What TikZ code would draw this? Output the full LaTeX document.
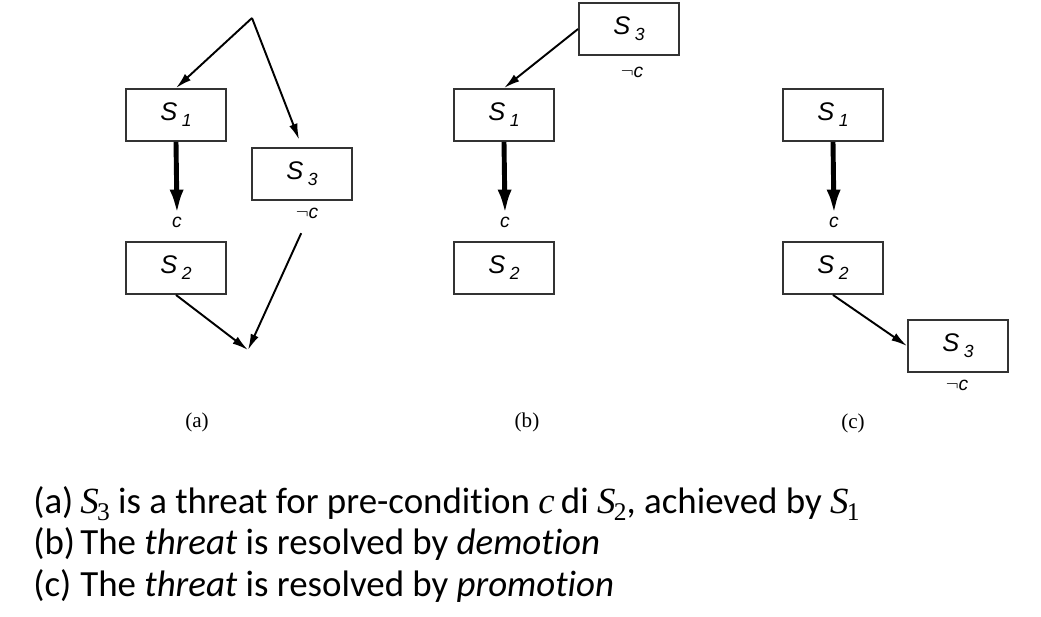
\documentclass[tikz,border=0pt]{standalone}
\usepackage{fontspec}
\setmainfont{Carlito}[Ligatures=NoCommon]
\newfontfamily\boxfont{Liberation Sans}
\newfontfamily\capfont{Liberation Serif}
\usetikzlibrary{arrows.meta}

\newcommand{\sname}[1]{\textit{S}\kern2.5pt\raisebox{-.45ex}{\fontsize{10}{10}\selectfont\textit{#1}}}
\newcommand{\mS}[1]{{\capfont\itshape S}\kern-1pt\raisebox{-.45ex}{\capfont\fontsize{14.5}{14.5}\selectfont #1}}

\tikzset{
  stepbox/.style = {draw=black!80, line width=1.1pt, minimum width=2cm, minimum height=1.04cm,
                    font=\boxfont\fontsize{14.5}{16}\selectfont},
  cond/.style = {inner sep=1pt, font=\boxfont\itshape\fontsize{11}{12}\selectfont},
  link/.style = {-{Latex[length=3.2mm,width=1.7mm]}, line width=1.1pt},
  causal/.style = {-{Latex[length=5mm,width=2.8mm]}, line width=2.8pt},
  sub/.style = {font=\capfont\fontsize{12}{14}\selectfont},
  item/.style = {anchor=base west, inner sep=0pt, font=\fontsize{21}{24}\selectfont}
}

\begin{document}
\begin{tikzpicture}[x = 0.02cm, y = -0.02cm]

            \useasboundingbox (0,0) rectangle (1041,616);

            % (a)
            \coordinate (topa) at (252,18);
            \coordinate (enda) at (248,350);
            \node [stepbox] (s1a) at (176,115) {\sname{1}};
            \node [stepbox] (s3a) at (302,174) {\sname{3}};
            \node [stepbox] (s2a) at (176,268) {\sname{2}};
            \node [cond] (ca) at (177,222) {c};
            \node [cond] (nca) at (307,213) {$\neg$c};
            \draw [link] (topa) -- (s1a.north);
            \draw [link, shorten >= 4.5pt] (topa) -- (s3a.north);
            \draw [causal] (s1a.south) -- (ca.north);
            \draw [link] (s2a.south) -- (enda);
            \draw [link, shorten <= 8pt] (nca.south) -- (enda);
            \node [sub] (suba) at (197,422) {(a)};

            % (b)
            \node [stepbox] (s3b) at (629,29) {\sname{3}};
            \node [cond] (ncb) at (632,72) {$\neg$c};
            \node [stepbox] (s1b) at (504,115) {\sname{1}};
            \node [cond] (cb) at (505,222) {c};
            \node [stepbox] (s2b) at (504,268) {\sname{2}};
            \draw [link] (s3b.west) -- (s1b.north);
            \draw [causal] (s1b.south) -- (cb.north);
            \node [sub] (subb) at (527,422) {(b)};

            % (c)
            \node [stepbox] (s1c) at (833,115) {\sname{1}};
            \node [cond] (cc) at (834,222) {c};
            \node [stepbox] (s2c) at (833,268) {\sname{2}};
            \node [stepbox] (s3c) at (958,346) {\sname{3}};
            \node [cond] (ncc) at (957,385) {$\neg$c};
            \draw [link] (s2c.south) -- (s3c.west);
            \draw [causal] (s1c.south) -- (cc.north);
            \node [sub] (subc) at (853,423) {(c)};

            \foreach \l/\y/\t in {a/513/{\mS{3} is a threat for pre-condition {\capfont\itshape c}\,di \mS{2}, achieved by \mS{1}},
                                  b/554/{The \textit{threat} is resolved by \textit{demotion}},
                                  c/596/{The \textit{threat} is resolved by \textit{promotion}}} {
              \node [item] (lbl\l) at (33,\y) {(\l)};
              \node [item] (txt\l) at (80,\y) {\t};
            }
            \end{tikzpicture}
\end{document}
